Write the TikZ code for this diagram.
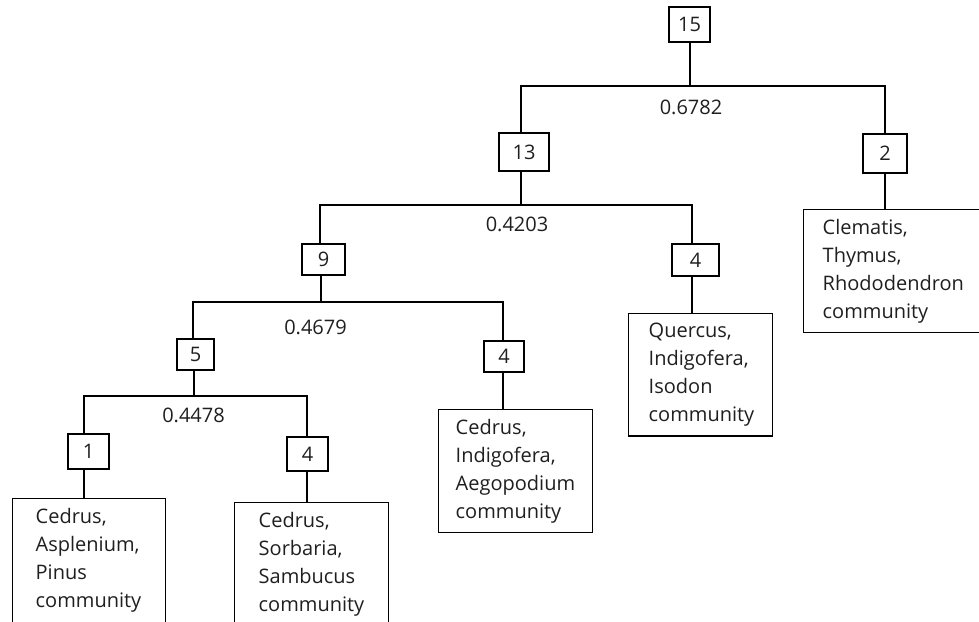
\documentclass[tikz,border=0pt]{standalone}
\usepackage{fontspec}
\setmainfont{Open Sans}
\newcommand{\lowstrut}{\rule[-18pt]{0pt}{18pt}}
\begin{document}
\begin{tikzpicture}[x=1pt,y=-1pt,line width=1.4pt,
  every node/.style={font=\fontsize{20pt}{28pt}\selectfont,text=black!88},
  numbox/.style 2 args={draw=black,inner sep=0pt,minimum width=#1,minimum height=#2},
  leafbox/.style={draw=black,anchor=north west,align=left,inner ysep=9.5pt},
  val/.style={inner sep=0pt}]
\useasboundingbox (0,0) rectangle (979,621);
\clip (0,0) rectangle (979,621);
% number boxes
\node[numbox={41pt}{35pt}] (n15) at (689.5,24.5) {15};
\node[numbox={50pt}{38pt}] (n13) at (524,152) {13};
\node[numbox={44pt}{39pt}] (n2) at (885,153.5) {2};
\node[numbox={43pt}{31pt}] (n9) at (323.5,259.5) {9};
\node[numbox={47pt}{32pt}] (nq4) at (695.5,260) {4};
\node[numbox={37pt}{31pt}] (n5) at (195.5,354.5) {5};
\node[numbox={40pt}{31pt}] (nm4) at (504,356.5) {4};
\node[numbox={41pt}{35pt}] (n1) at (88.5,451.5) {1};
\node[numbox={41pt}{34pt}] (nl4) at (307.5,454) {4};
% leaf boxes
\node[leafbox,inner xsep=19pt,text width=162pt] (clem) at (803,209) {Clematis,\\Thymus,\\Rhododendron\\community};
\node[leafbox,inner xsep=20pt,text width=104pt] (quer) at (628,313) {Quercus,\\Indigofera,\\Isodon\\community};
\node[leafbox,inner xsep=17pt,text width=120pt] (aeg) at (438,409) {Cedrus,\\Indigofera,\\Aegopodium\\community};
\node[leafbox,inner xsep=23pt,text width=107pt] (l1) at (12,498) {Cedrus,\\Asplenium,\\Pinus\\community\lowstrut};
\node[leafbox,inner xsep=24pt,text width=106pt] (l2) at (234,502) {Cedrus,\\Sorbaria,\\Sambucus\\community\lowstrut};
% values
\node[val] (v1) at (691,107.5) {0.6782};
\node[val] (v2) at (517,224.5) {0.4203};
\node[val] (v3) at (315.5,327) {0.4679};
\node[val] (v4) at (193.5,415) {0.4478};
% junctions
\coordinate (jA) at (690,86); \coordinate (aL) at (521,86); \coordinate (aR) at (885,86);
\coordinate (jB) at (521,205); \coordinate (bL) at (320,205); \coordinate (bR) at (692,205);
\coordinate (jC) at (321,302); \coordinate (cL) at (193,302); \coordinate (cR) at (503,302);
\coordinate (jD) at (194,396); \coordinate (dL) at (84,396); \coordinate (dR) at (307,396);
% connectors
\draw (jA |- n15.south) -- (jA);
\draw (aL |- n13.north) -- (aL) -- (aR) -- (aR |- n2.north);
\draw (jB |- n13.south) -- (jB);
\draw (bL |- n9.north) -- (bL) -- (bR) -- (bR |- nq4.north);
\draw (jC |- n9.south) -- (jC);
\draw (cL |- n5.north) -- (cL) -- (cR) -- (cR |- nm4.north);
\draw (jD |- n5.south) -- (jD);
\draw (dL |- n1.north) -- (dL) -- (dR) -- (dR |- nl4.north);
\draw (aR |- n2.south) -- (aR |- clem.north);
\draw (bR |- nq4.south) -- (bR |- quer.north);
\draw (cR |- nm4.south) -- (cR |- aeg.north);
\draw (dL |- n1.south) -- (dL |- l1.north);
\draw (dR |- nl4.south) -- (dR |- l2.north);
\end{tikzpicture}
\end{document}
